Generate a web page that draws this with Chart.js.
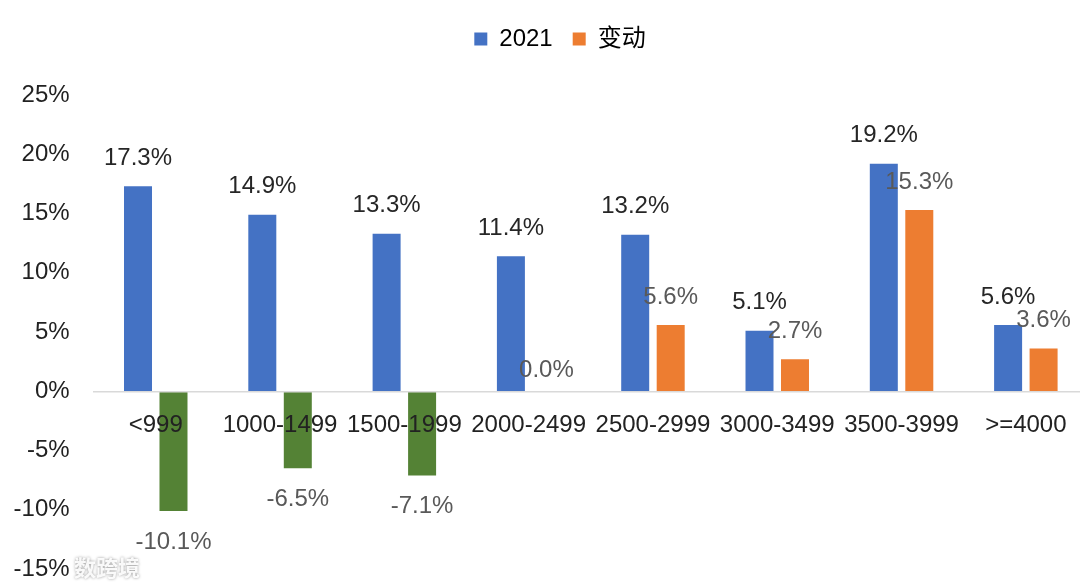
<!DOCTYPE html>
<html><head><meta charset="utf-8">
<script src="https://cdn.jsdelivr.net/npm/chart.js@4"></script>
<style>html,body{margin:0;padding:0;background:#fff;overflow:hidden}
#wrap{width:1090px;height:587px;position:relative}</style></head>
<body><div id="wrap"><canvas id="c"></canvas></div>
<script>
const categories = ['<999','1000-1499','1500-1999','2000-2499','2500-2999','3000-3499','3500-3999','>=4000'];
const seriesNames = ['2021','变动'];
const values2021 = [17.3,14.9,13.3,11.4,13.2,5.1,19.2,5.6];
const valuesChange = [-10.1,-6.5,-7.1,0.0,5.6,2.7,15.3,3.6];
const yMin = -15, yMax = 25, yStep = 5;

const FONT = "'Liberation Sans', 'Noto Sans CJK SC', Arial, sans-serif";
Chart.defaults.font.family = FONT;
Chart.defaults.font.size = 24;
Chart.defaults.color = '#333333';

const BLUE = '#4472C4', ORANGE = '#ED7D31', GREEN = '#548235';

const layoutPlugin = {
  id: 'layoutTweak',
  beforeInit(chart) {
    const lg = chart.legend;
    if (lg) {
      const fit = lg.fit;
      lg.fit = function () { fit.call(this); this.height = 95; };
    }
  },
  afterUpdate(chart) {
    const lg = chart.legend;
    if (lg) { lg.left += 16; lg.right += 16; lg.top += 7; lg.bottom += 7; }
  }
};

const labelPlugin = {
  id: 'valueLabels',
  afterDatasetsDraw(chart) {
    const ctx = chart.ctx;
    ctx.save();
    ctx.font = '24px ' + FONT;
    ctx.textAlign = 'center';
    ctx.textBaseline = 'middle';
    chart.data.datasets.forEach((ds, i) => {
      const meta = chart.getDatasetMeta(i);
      ctx.fillStyle = i === 0 ? '#262626' : '#595959';
      meta.data.forEach((bar, j) => {
        const v = ds.data[j];
        const y = v > 0 ? bar.y - 28 : (v < 0 ? bar.y + 31 : bar.y - 21);
        ctx.fillText(v.toFixed(1) + '%', bar.x, y);
      });
    });
    ctx.restore();
  },
  afterDraw(chart) {
    const ctx = chart.ctx;
    ctx.save();
    ctx.font = 'bold 22px "Noto Sans CJK SC"';
    ctx.textAlign = 'left';
    ctx.textBaseline = 'middle';
    ctx.shadowColor = 'rgba(0,0,0,0.45)';
    ctx.shadowBlur = 3;
    ctx.fillStyle = 'rgba(255,255,255,0.92)';
    ctx.fillText('数跨境', 74, 568);
    ctx.restore();
  }
};

new Chart(document.getElementById('c'), {
  type: 'bar',
  data: {
    labels: categories,
    datasets: [
      { label: seriesNames[0], data: values2021, backgroundColor: BLUE },
      { label: seriesNames[1], data: valuesChange,
        backgroundColor: valuesChange.map(v => v < 0 ? GREEN : ORANGE) }
    ]
  },
  options: {
    responsive: true,
    maintainAspectRatio: false,
    devicePixelRatio: 1,
    animation: false,
    layout: { padding: { left: 0, right: 2, top: 0, bottom: 18 } },
    datasets: { bar: { categoryPercentage: 0.571, barPercentage: 0.789 } },
    plugins: {
      tooltip: { enabled: false },
      legend: {
        position: 'top',
        labels: {
          boxWidth: 13, boxHeight: 13, padding: 20, color: '#222',
          font: { size: 24 },
          generateLabels(chart) {
            return chart.data.datasets.map((ds, i) => ({
              text: ds.label, fillStyle: i === 0 ? BLUE : ORANGE,
              strokeStyle: 'transparent', lineWidth: 0, datasetIndex: i, hidden: false
            }));
          }
        }
      }
    },
    scales: {
      x: {
        position: { y: 0 },
        grid: { display: false, drawTicks: false },
        border: { display: true, color: '#D9D9D9', width: 1.5, z: 1 },
        ticks: { z: 1, padding: 20, color: '#222', font: { size: 24 }, maxRotation: 0, autoSkip: false },
        afterFit(scale) { scale.height = 0; scale.paddingLeft = 0; scale.paddingRight = 0; }
      },
      y: {
        min: yMin, max: yMax,
        grid: { display: false, drawTicks: false },
        border: { display: false },
        ticks: { stepSize: yStep, padding: 24, color: '#222', font: { size: 24 },
                 callback: v => v + '%' },
        afterFit(scale) { scale.width = 93.6; scale.paddingTop = 14; scale.paddingBottom = 14; }
      }
    }
  },
  plugins: [layoutPlugin, labelPlugin]
});
</script></body></html>
